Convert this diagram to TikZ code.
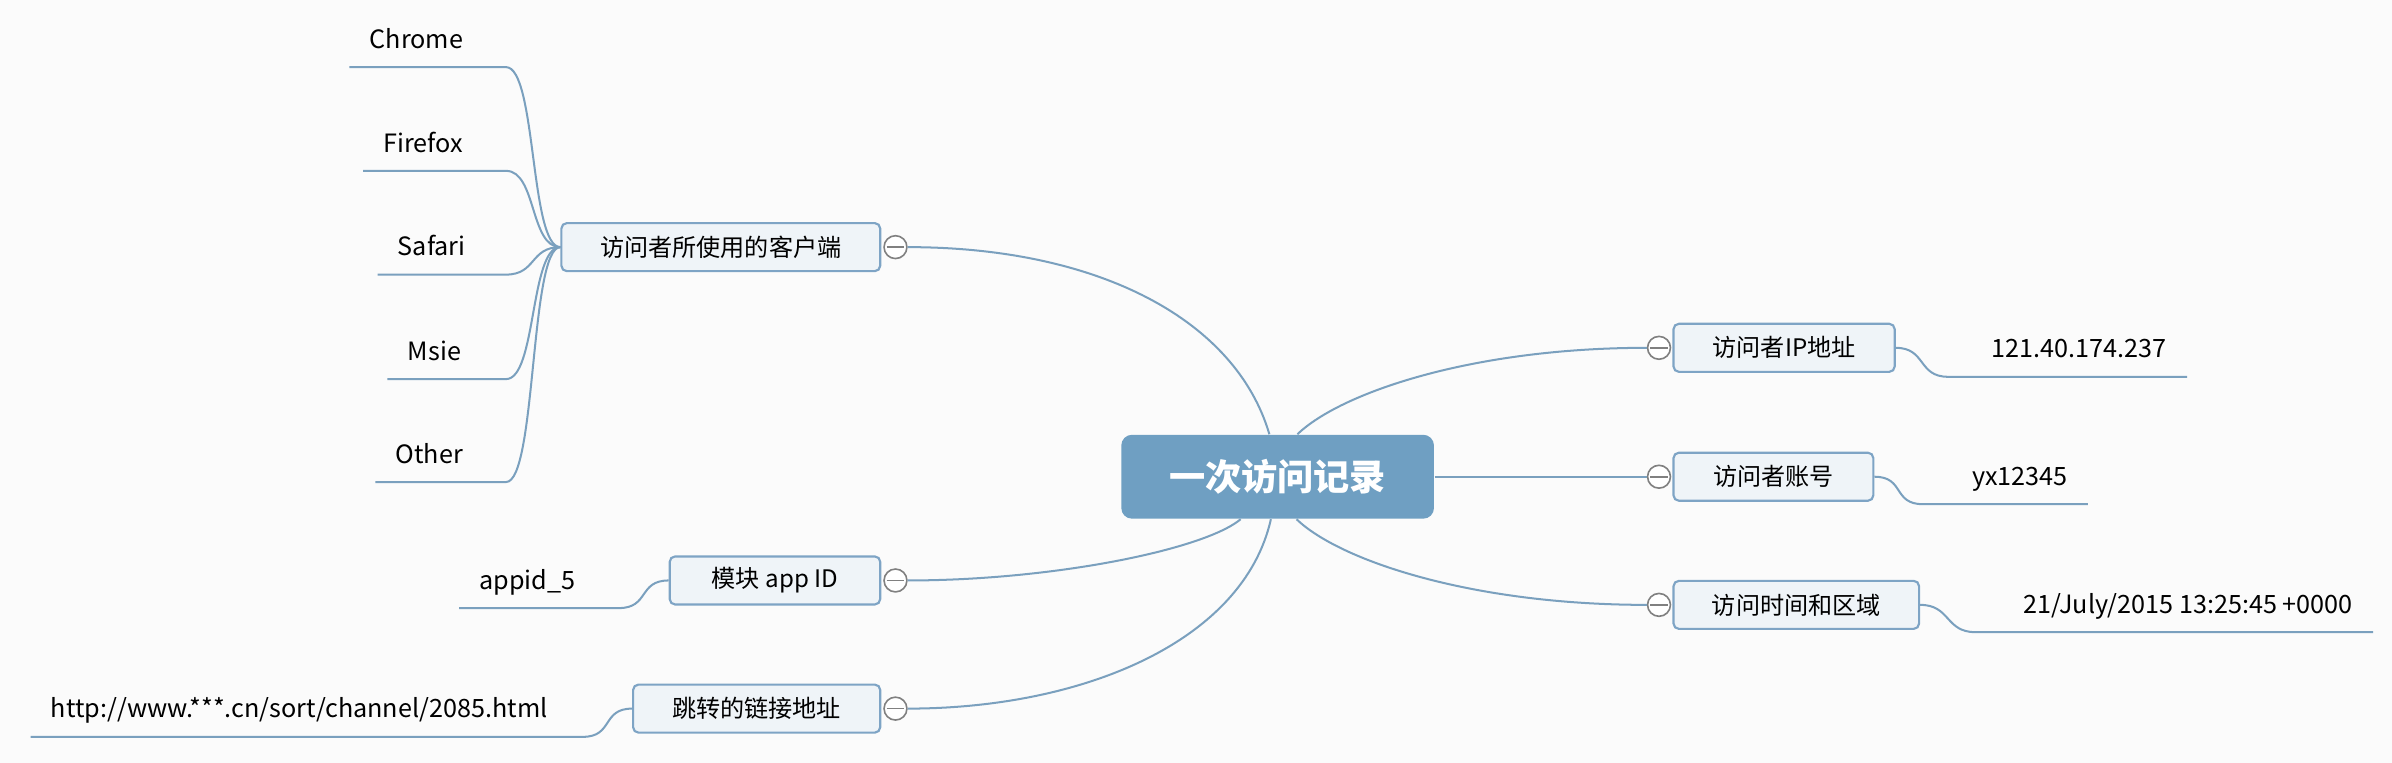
\documentclass[tikz,border=0pt]{standalone}
\usepackage{fontspec}
\setmainfont{Noto Sans CJK SC}
\usetikzlibrary{backgrounds}
\definecolor{vrline}{RGB}{122,160,190}
\definecolor{vredge}{RGB}{126,164,197}
\definecolor{vrfill}{RGB}{239,244,248}
\definecolor{vrtop}{RGB}{111,159,194}
\definecolor{vrbg}{RGB}{251,251,251}
\tikzset{
  vrroot/.style={rounded corners=4pt, fill=vrtop, text=white, font=\fontsize{13.5}{16}\selectfont\bfseries,
    minimum width=4.1cm, minimum height=1.1cm, inner sep=0pt},
  vrbox/.style={draw=vredge, line width=0.8pt, rounded corners=2pt, fill=vrfill,
    font=\fontsize{9}{11}\selectfont, minimum height=0.63cm, inner sep=0pt},
  vrfold/.style={circle, draw=gray, fill=white, line width=0.6pt, minimum size=0.3cm, inner sep=0pt,
    path picture={\draw[gray, line width=0.6pt] ([xshift=1pt]path picture bounding box.west) -- ([xshift=-1pt]path picture bounding box.east);}},
  vrleaf/.style={font=\fontsize{9.4}{11}\selectfont, anchor=south west, inner xsep=0.26cm, inner ysep=0.24cm, text depth=0pt},
  vrleafl/.style={vrleaf, align=flush left},
  vrleafr/.style={vrleaf, align=flush right},
  vrlink/.style={draw=vrline, line width=0.75pt}
}
\begin{document}
\begin{tikzpicture}[x=0.02cm, y=-0.02cm]
  \fill[vrbg, use as bounding box] (0,0) rectangle (1568,500);
  % centre topic
  \node[vrroot] (root) at (837.5,312.5) {一次访问记录};
  % right branch
  \node[vrbox, minimum width=2.9cm] (ip) at (1169.5,228) {访问者IP地址};
  \node[vrbox, minimum width=2.62cm] (acct) at (1162.5,312.5) {访问者账号};
  \node[vrbox, minimum width=3.22cm] (time) at (1177.5,396.5) {访问时间和区域};
  \node[vrfold] (ipf) at (1087.5,228) {};
  \node[vrfold] (acctf) at (1087.5,312.5) {};
  \node[vrfold] (timef) at (1087.5,396.5) {};
  \node[vrleafr, text width=2.6cm] (ipv) at (1277,247) {121.40.174.237};
  \node[vrleafr, text width=1.63cm] (acctv) at (1260.5,330.5) {yx12345};
  \node[vrleafr, text width=4.68cm] (timev) at (1295,414.4) {21/July/2015 13:25:45 +0000};
  % left branch
  \node[vrbox, minimum width=4.18cm] (client) at (472.5,162) {访问者所使用的客户端};
  \node[vrbox, minimum width=2.76cm] (app) at (508,380.5) {模块 app ID};
  \node[vrbox, minimum width=3.24cm] (jump) at (496,464.5) {跳转的链接地址};
  \node[vrfold] (clientf) at (587,162) {};
  \node[vrfold] (appf) at (587,380.5) {};
  \node[vrfold] (jumpf) at (587,464.5) {};
  \node[vrleafl, text width=1.52cm] (chrome) at (229,44) {Chrome};
  \node[vrleafl, text width=1.34cm] (firefox) at (238,112) {Firefox};
  \node[vrleafl, text width=1.15cm] (safari) at (247.5,180) {Safari};
  \node[vrleafl, text width=1.02cm] (msie) at (254,248.5) {Msie};
  \node[vrleafl, text width=1.18cm] (other) at (246,316) {Other};
  \node[vrleafl, text width=1.56cm] (appid) at (301,398.6) {appid\_5};
  \node[vrleafl, text width=6.71cm] (url) at (20,483) {http://www.***.cn/sort/channel/2085.html};
  % main branches
  \draw[vrlink] (root.101) .. controls +(-22,-75) and +(125,0) .. (clientf.east);
  \draw[vrlink] (root.229.5) .. controls +(-24,20) and +(95,0) .. (appf.east);
  \draw[vrlink] (root.261) .. controls +(-18,80) and +(115,0) .. (jumpf.east);
  \draw[vrlink] (root.65.6) .. controls +(28,-27) and +(-115,0) .. (ipf.west);
  \draw[vrlink] (root.east) -- (acctf.west);
  \draw[vrlink] (root.294.4) .. controls +(28,27) and +(-115,0) .. (timef.west);
  % leaves
  \foreach \leaf in {chrome,firefox,safari,msie,other}
    \draw[vrlink] (client.west) .. controls +(-20,0) and +(20,0) .. (\leaf.south east) -- (\leaf.south west);
  \draw[vrlink] (app.west) .. controls +(-20,0) and +(20,0) .. (appid.south east) -- (appid.south west);
  \draw[vrlink] (jump.west) .. controls +(-20,0) and +(20,0) .. (url.south east) -- (url.south west);
  \draw[vrlink] (ip.east) .. controls +(20,0) and +(-20,0) .. (ipv.south west) -- (ipv.south east);
  \draw[vrlink] (acct.east) .. controls +(20,0) and +(-20,0) .. (acctv.south west) -- (acctv.south east);
  \draw[vrlink] (time.east) .. controls +(20,0) and +(-20,0) .. (timev.south west) -- (timev.south east);
\end{tikzpicture}
\end{document}
